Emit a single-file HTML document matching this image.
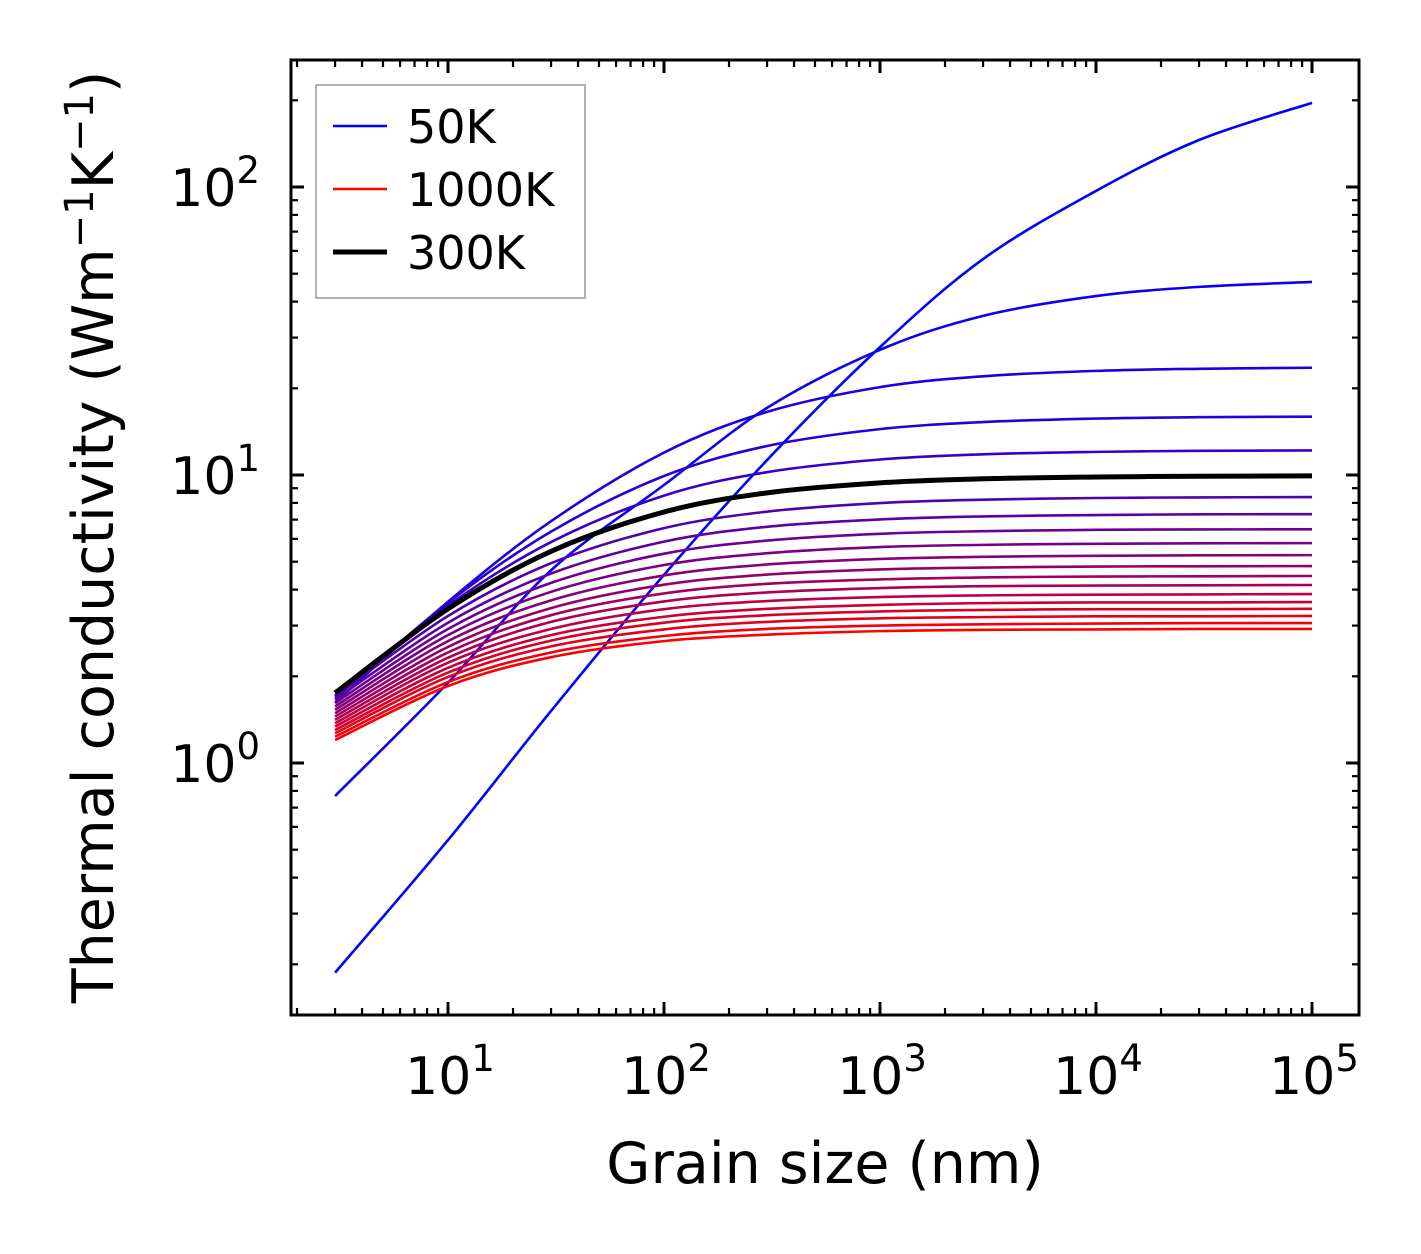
<!DOCTYPE html>
<html><head><meta charset="utf-8">
<style>
html,body{margin:0;padding:0;background:#fff;}
svg{display:block;font-family:"DejaVu Sans","Liberation Sans",sans-serif;}
</style></head>
<body>
<svg id="chart" width="1421" height="1254" viewBox="0 0 1421 1254" xmlns="http://www.w3.org/2000/svg">
<rect width="1421" height="1254" fill="#fff"/>
<g id="lines"></g>
<g id="ticks"></g>
<rect x="291" y="60" width="1068" height="955" fill="none" stroke="#000" stroke-width="3"/>
<g id="labels" font-size="52" fill="#000"></g>
<text x="825" y="1183" font-size="57" text-anchor="middle">Grain size (nm)</text>
<text transform="translate(113,537) rotate(-90)" font-size="57" text-anchor="middle">Thermal conductivity (Wm<tspan dy="-20" font-size="40">−1</tspan><tspan dy="20">K</tspan><tspan dy="-20" font-size="40">−1</tspan><tspan dy="20">)</tspan></text>
<g>
<rect x="316" y="85" width="269" height="213" fill="#fff" stroke="#999" stroke-width="1.5"/>
<line x1="333" y1="126" x2="387" y2="126" stroke="rgb(0,0,255)" stroke-width="2.6"/>
<text x="407" y="143" font-size="46">50K</text>
<line x1="333" y1="189" x2="387" y2="189" stroke="rgb(255,0,0)" stroke-width="2.6"/>
<text x="407" y="206" font-size="46">1000K</text>
<line x1="333" y1="252" x2="387" y2="252" stroke="#000" stroke-width="5"/>
<text x="407" y="269" font-size="46">300K</text>
</g>
</svg>
<script>
const grainSizes = [3, 10, 30, 100, 300, 1000, 3000, 10000, 30000, 100000];
const temperatures = [50,100,150,200,250,300,350,400,450,500,550,600,650,700,750,800,850,900,950,1000];
const k50 = [0.187,0.540,1.516,4.50,11.27,27.8,56.2,96.9,145.6,196];
const k100 = [0.768,1.90,4.67,9.23,17.1,27.2,35.7,41.8,45.0,46.8];
const k150 = [1.62,3.63,6.91,11.96,16.56,20.19,22.02,22.99,23.38,23.57];
const k200 = [1.68,3.60,6.36,9.92,12.61,14.43,15.27,15.70,15.87,15.94];
const k250 = [1.72,3.52,5.85,8.48,10.23,11.32,11.80,12.03,12.13,12.17];
const k300 = [1.75,3.43,5.43,7.44,8.67,9.39,9.70,9.84,9.90,9.93];
const k350 = [1.704,3.24,4.94,6.54,7.46,7.99,8.21,8.32,8.36,8.38];
const k400 = [1.658,3.07,4.55,5.87,6.61,7.01,7.18,7.26,7.30,7.31];
const k450 = [1.614,2.92,4.22,5.33,5.92,6.25,6.38,6.45,6.47,6.48];
const k500 = [1.572,2.78,3.93,4.87,5.35,5.62,5.72,5.77,5.79,5.80];
const k550 = [1.53,2.65,3.67,4.48,4.89,5.11,5.20,5.24,5.26,5.27];
const k600 = [1.489,2.53,3.45,4.16,4.51,4.70,4.77,4.81,4.82,4.83];
const k650 = [1.45,2.42,3.26,3.88,4.19,4.34,4.41,4.44,4.45,4.46];
const k700 = [1.412,2.32,3.09,3.64,3.91,4.05,4.11,4.13,4.14,4.15];
const k750 = [1.374,2.23,2.92,3.42,3.65,3.77,3.82,3.84,3.85,3.86];
const k800 = [1.338,2.14,2.78,3.22,3.43,3.54,3.59,3.61,3.61,3.62];
const k850 = [1.302,2.06,2.66,3.07,3.26,3.36,3.40,3.42,3.42,3.43];
const k900 = [1.268,1.99,2.54,2.91,3.09,3.18,3.21,3.23,3.23,3.24];
const k950 = [1.234,1.91,2.42,2.76,2.92,3.00,3.03,3.05,3.06,3.06];
const k1000 = [1.201,1.85,2.33,2.65,2.79,2.87,2.90,2.91,2.92,2.92];
const seriesValues = [k50,k100,k150,k200,k250,k300,k350,k400,k450,k500,k550,k600,k650,k700,k750,k800,k850,k900,k950,k1000];
const xTickLabels = ["1","2","3","4","5"];
const yTickLabels = ["0","1","2"];

const NS = "http://www.w3.org/2000/svg";
function xS(L){ return 448 + (Math.log10(L) - 1) * 216; }
function yS(k){ return 763 - Math.log10(k) * 288; }

function pathFrom(pts){
  let d = "M" + pts[0][0].toFixed(2) + "," + pts[0][1].toFixed(2);
  for (let i = 0; i < pts.length - 1; i++){
    const p0 = pts[Math.max(0,i-1)], p1 = pts[i], p2 = pts[i+1], p3 = pts[Math.min(pts.length-1,i+2)];
    const c1x = p1[0] + (p2[0]-p0[0])/6, c1y = p1[1] + (p2[1]-p0[1])/6;
    const c2x = p2[0] - (p3[0]-p1[0])/6, c2y = p2[1] - (p3[1]-p1[1])/6;
    d += " C" + c1x.toFixed(2)+","+c1y.toFixed(2)+" "+c2x.toFixed(2)+","+c2y.toFixed(2)+" "+p2[0].toFixed(2)+","+p2[1].toFixed(2);
  }
  return d;
}

const linesG = document.getElementById("lines");
const n = temperatures.length;
const order = [];
for (let i = 0; i < n; i++) if (temperatures[i] !== 300) order.push(i);
order.push(temperatures.indexOf(300));
order.forEach(i => {
  const vals = seriesValues[i];
  const pts = grainSizes.map((L, j) => [xS(L), yS(vals[j])]);
  const p = document.createElementNS(NS, "path");
  p.setAttribute("d", pathFrom(pts));
  p.setAttribute("fill", "none");
  const t = i / (n - 1);
  const is300 = temperatures[i] === 300;
  p.setAttribute("stroke", is300 ? "#000" : "rgb(" + Math.round(255*t) + ",0," + Math.round(255*(1-t)) + ")");
  p.setAttribute("stroke-width", is300 ? "5" : "2.6");
  
  
  linesG.appendChild(p);
});

const ticksG = document.getElementById("ticks");
function tick(x1,y1,x2,y2,w){
  const l = document.createElementNS(NS, "line");
  l.setAttribute("x1",x1); l.setAttribute("y1",y1); l.setAttribute("x2",x2); l.setAttribute("y2",y2);
  l.setAttribute("stroke","#000"); l.setAttribute("stroke-width",w);
  
  
  ticksG.appendChild(l);
}
const X0 = 291, X1 = 1359, Y0 = 60, Y1 = 1015;
for (let e = 0; e <= 5; e++){
  for (let m = 1; m <= 9; m++){
    const x = xS(m * Math.pow(10, e));
    if (x < X0 + 2 || x > X1 - 2) continue;
    const len = m === 1 ? 13 : 7, w = m === 1 ? 3 : 2.2;
    tick(x, Y1, x, Y1 - len, w); tick(x, Y0, x, Y0 + len, w);
  }
}
for (let e = -1; e <= 2; e++){
  for (let m = 1; m <= 9; m++){
    const y = yS(m * Math.pow(10, e));
    if (y < Y0 + 2 || y > Y1 - 2) continue;
    const len = m === 1 ? 13 : 7, w = m === 1 ? 3 : 2.2;
    tick(X0, y, X0 + len, y, w); tick(X1, y, X1 - len, y, w);
  }
}

const labelsG = document.getElementById("labels");
function powLabel(x, y, exp, anchor, name){
  const t = document.createElementNS(NS, "text");
  t.setAttribute("x", x); t.setAttribute("y", y); t.setAttribute("text-anchor", anchor);
  t.innerHTML = '10<tspan dy="-23" font-size="37">' + exp + '</tspan>';
  
  
  labelsG.appendChild(t);
}
xTickLabels.forEach(s => powLabel(xS(Math.pow(10, +s)) + 2, 1094, s, "middle", "x-tick-label"));
yTickLabels.forEach(s => powLabel(260, yS(Math.pow(10, +s)) + 19, s, "end", "y-tick-label"));
</script>
</body></html>
